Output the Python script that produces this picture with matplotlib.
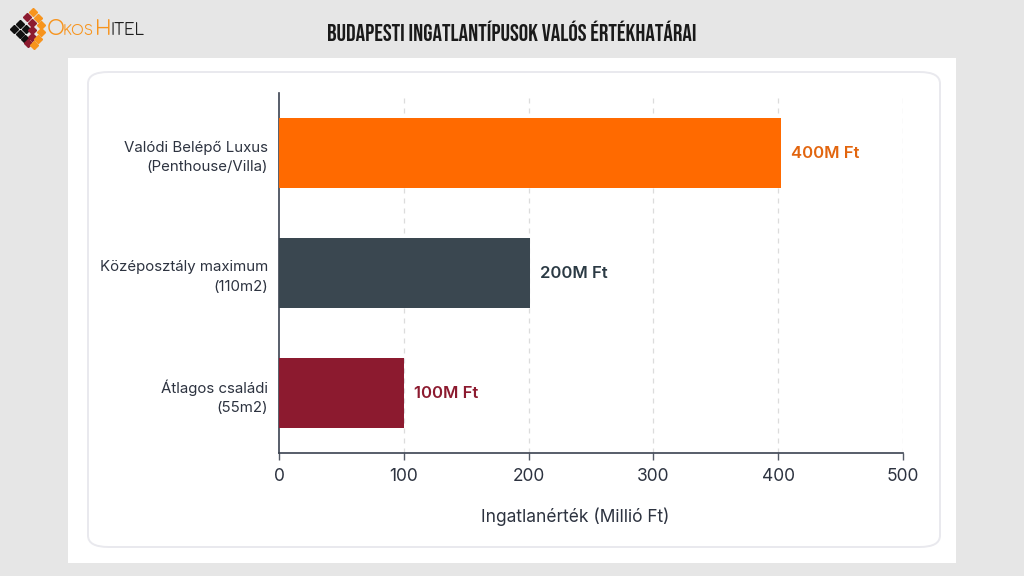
import matplotlib.pyplot as plt
from matplotlib.patches import FancyBboxPatch, Rectangle

# -----------
# Chart data
# -----------
categories = ["Átlagos családi\n(55m2)",
              "Középosztály maximum\n(110m2)",
              "Valódi Belépő Luxus\n(Penthouse/Villa)"]
values = [100, 201, 402]
value_labels = ["100M Ft", "200M Ft", "400M Ft"]
bar_colors = ["#8c1a2f", "#3a4750", "#ff6a00"]
label_colors = ["#8c1a2f", "#2b3a44", "#e2650e"]
x_ticks = [0, 100, 200, 300, 400, 500]

TEXT = "#2d3340"
BODY = ["Inter", "DejaVu Sans"]
W, H = 1024, 576

plt.rcParams["font.family"] = BODY

fig = plt.figure(figsize=(10.24, 5.76), dpi=100)
fig.patch.set_facecolor("#e6e6e6")


def px(x, y, w, h):
    """pixel box (top-left origin) -> figure fraction"""
    return x / W, 1 - (y + h) / H, w / W, h / H


# white panel + rounded card
x0, y0, w0, h0 = px(68, 58, 888, 505)
fig.add_artist(Rectangle((x0, y0), w0, h0, transform=fig.transFigure,
                         facecolor="white", edgecolor="none", zorder=0))
x1, y1, w1, h1 = px(88, 72, 852, 475)
fig.add_artist(FancyBboxPatch((x1, y1), w1, h1, transform=fig.transFigure,
                              boxstyle="round,pad=0,rounding_size=0.02",
                              facecolor="white", edgecolor="#e9e9ee",
                              linewidth=1.4, zorder=0.5))

# title
fig.text(512 / W, 1 - 31 / H, "BUDAPESTI INGATLANTÍPUSOK VALÓS ÉRTÉKHATÁRAI",
         ha="center", va="center", fontsize=17,
         family=["Bebas Neue", "DejaVu Sans"], color="#1a1a1a")

# -----------
# Logo
# -----------
logo_marks = [(14, 29, "#111111"), (20, 24, "#111111"), (20, 34, "#111111"),
              (26, 29, "#111111"), (25, 39, "#111111"),
              (27, 17, "#8c1a2f"), (32, 23, "#8c1a2f"), (32, 30, "#8c1a2f"),
              (32, 37, "#8c1a2f"), (28, 43, "#8c1a2f"),
              (33, 12, "#f7941d"), (38, 18, "#f7941d"), (41, 25, "#f7941d"),
              (41, 32, "#f7941d"), (38, 39, "#f7941d"), (34, 45, "#f7941d")]
for lx, ly, lc in logo_marks:
    fig.add_artist(plt.Line2D([lx / W], [1 - ly / H], marker="D",
                              markersize=3.8, color=lc, linestyle="none",
                              transform=fig.transFigure))
LOGO = ["Comfortaa", "Quicksand", "DejaVu Sans"]
fig.text(47 / W, 1 - 35 / H, "O", fontsize=14, color="#f7941d", family=LOGO,
         ha="left", va="baseline")
fig.text(63 / W, 1 - 35 / H, "KOS", fontsize=10, color="#f7941d", family=LOGO,
         ha="left", va="baseline")
fig.text(95 / W, 1 - 35 / H, "H", fontsize=14, color="#f7941d", family=LOGO,
         ha="left", va="baseline")
fig.text(110 / W, 1 - 35 / H, "ITEL", fontsize=11, color="#1f1f1f", family=LOGO,
         ha="left", va="baseline", fontweight="bold")

# -----------
# Main axes
# -----------
ax = fig.add_axes([279 / W, 1 - 453 / H, 624 / W, 360 / H])
ax.set_zorder(3)
ax.set_facecolor("none")
ypos = list(range(len(categories)))
ax.barh(ypos, values, height=0.58, color=bar_colors, zorder=3)

for y, v, lab, c in zip(ypos, values, value_labels, label_colors):
    ax.text(v + 8, y, lab, ha="left", va="center", fontsize=12,
            fontweight="semibold", color=c, zorder=4)

ax.set_xlim(0, 500)
ax.set_ylim(-0.5, 2.5)
ax.set_xticks(x_ticks)
ax.set_xticklabels([str(t) for t in x_ticks], fontsize=12.5, color=TEXT)
ax.set_yticks(ypos)
ax.set_yticklabels(categories, fontsize=10.8, color=TEXT, linespacing=1.5)
ax.tick_params(axis="y", length=0, pad=8)
ax.tick_params(axis="x", length=5, width=1, color="#555b66", pad=6)
ax.set_xlabel("Ingatlanérték (Millió Ft)", fontsize=12.5, color=TEXT,
              labelpad=16, x=0.474)

for t in x_ticks[1:]:
    ax.axvline(t, color="#dcdcdc", linestyle=(0, (4, 4)), linewidth=0.9, zorder=1)

for s in ["top", "right"]:
    ax.spines[s].set_visible(False)
for s in ["left", "bottom"]:
    ax.spines[s].set_color("#3b4250")
    ax.spines[s].set_linewidth(1.2)

fig.savefig("out.png", dpi=100, facecolor=fig.get_facecolor())
